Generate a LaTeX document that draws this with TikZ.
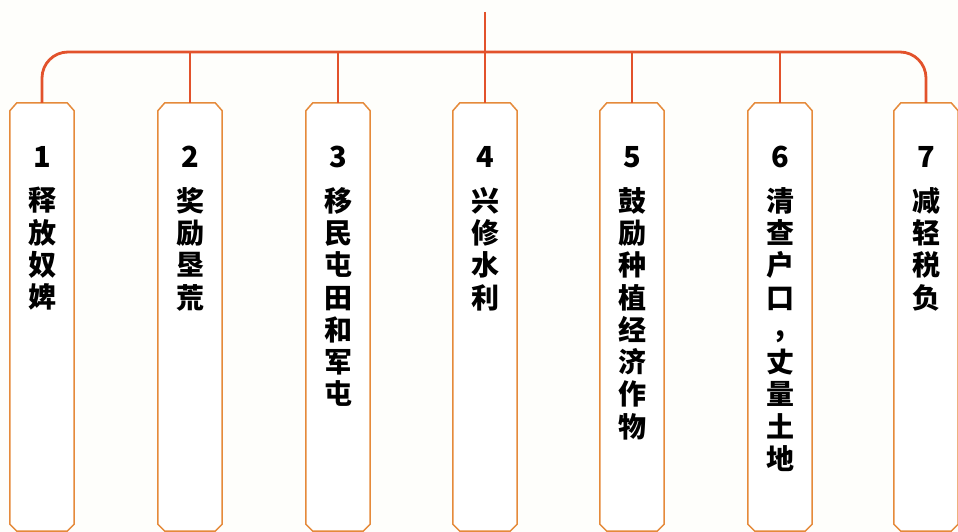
\documentclass[tikz,border=0pt]{standalone}
\usepackage{fontspec}
\newfontfamily\cjk{Noto Sans CJK SC}
\definecolor{connc}{HTML}{E2522B}
\definecolor{boxc}{HTML}{E58A3A}
\definecolor{bgc}{HTML}{FEFEFB}
\tikzset{
  conn/.style={draw=connc, line width=2.8pt},
  itembox/.style={rectangle, minimum width=64pt, minimum height=428pt, inner sep=0pt},
  boxline/.style={draw=boxc, line width=1.5pt, fill=white, line join=round},
  numtxt/.style={font=\cjk\bfseries\fontsize{29}{30}\selectfont, inner sep=0pt},
  coltxt/.style={font=\cjk\bfseries\fontsize{28}{32.3}\selectfont, align=center, anchor=north, inner sep=0pt}
}
\newcommand{\chambox}[1]{%
  \draw[boxline] ([xshift=7pt]#1.north west) -- ([xshift=-7pt]#1.north east)
    -- ([yshift=-8pt]#1.north east) -- ([yshift=7pt]#1.south east)
    -- ([xshift=-7pt]#1.south east) -- ([xshift=7pt]#1.south west)
    -- ([yshift=7pt]#1.south west) -- ([yshift=-8pt]#1.north west) -- cycle;}
\begin{document}
\begin{tikzpicture}[x=1pt,y=-1pt]
\fill[bgc] (0,0) rectangle (958,532);
\useasboundingbox (0,0) rectangle (958,532);
\coordinate (top) at (485,12);
\coordinate (bar) at (485,52);
\node[itembox] (b1) at (42,317) {};
\node[itembox] (b2) at (190,317) {};
\node[itembox] (b3) at (338,317) {};
\node[itembox] (b4) at (485,317) {};
\node[itembox] (b5) at (632,317) {};
\node[itembox] (b6) at (780,317) {};
\node[itembox] (b7) at (926,317) {};
\foreach \b in {b1,b2,b3,b4,b5,b6,b7} {\chambox{\b}}
\draw[conn] (top) -- (bar);
\draw[conn, rounded corners=26pt] (b1.north) -- (b1.north |- bar) -- (b7.north |- bar) -- (b7.north);
\foreach \b in {b2,b3,b4,b5,b6} \draw[conn] (\b.north) -- (\b.north |- bar);
\node[numtxt] (n1) at (42,157) {1};
\node[numtxt] (n2) at (190,157) {2};
\node[numtxt] (n3) at (338,157) {3};
\node[numtxt] (n4) at (485,157) {4};
\node[numtxt] (n5) at (632,157) {5};
\node[numtxt] (n6) at (780,157) {6};
\node[numtxt] (n7) at (926,157) {7};
\node[coltxt] (t1) at (42,187) {释\\放\\奴\\婢};
\node[coltxt] (t2) at (190,187) {奖\\励\\垦\\荒};
\node[coltxt] (t3) at (338,187) {移\\民\\屯\\田\\和\\军\\屯};
\node[coltxt] (t4) at (485,187) {兴\\修\\水\\利};
\node[coltxt] (t5) at (632,187) {鼓\\励\\种\\植\\经\\济\\作\\物};
\node[coltxt] (t6) at (780,187) {清\\查\\户\\口\\\raisebox{4pt}{,}\\丈\\量\\土\\地};
\node[coltxt] (t7) at (926,187) {减\\轻\\税\\负};
\end{tikzpicture}
\end{document}
